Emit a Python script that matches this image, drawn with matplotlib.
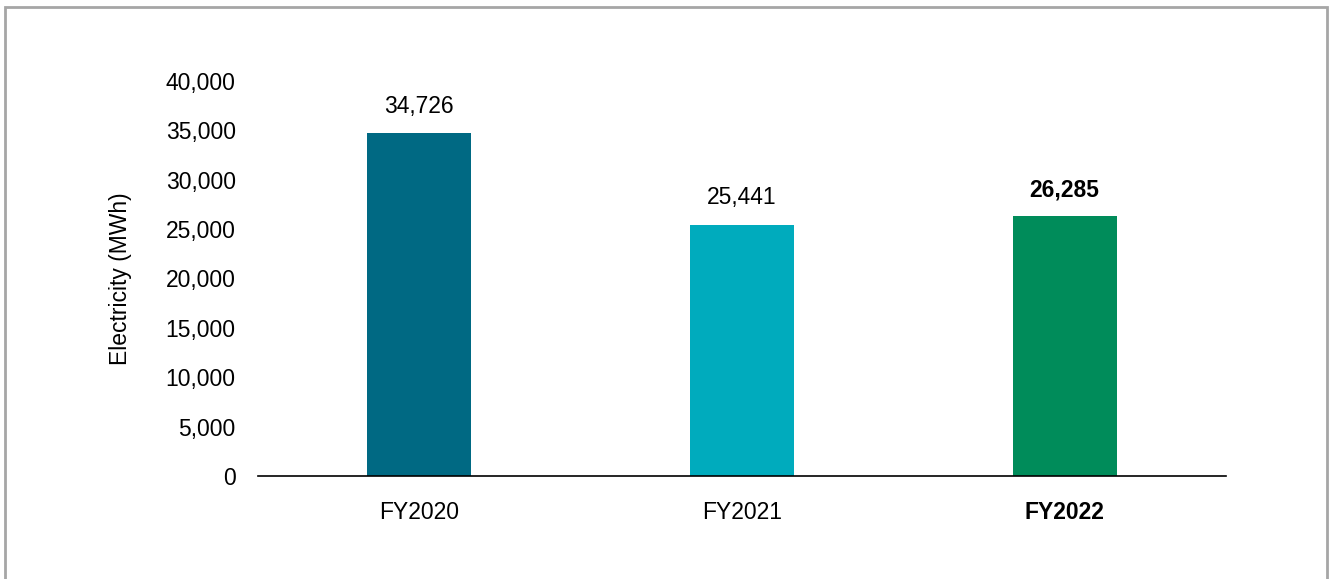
import matplotlib.pyplot as plt
from matplotlib.patches import Rectangle
from matplotlib.ticker import FuncFormatter

years = ["FY2020", "FY2021", "FY2022"]
electricity = [34726, 25441, 26285]
colors = ["#006983", "#00abbd", "#008c5a"]
yticks = [0, 5000, 10000, 15000, 20000, 25000, 30000, 35000, 40000]

plt.rcParams['font.family'] = ['Liberation Sans', 'DejaVu Sans']
FS = 16.5

fig = plt.figure(figsize=(13.29, 5.79), dpi=100)
ax = fig.add_axes([0.1941, 0.1779, 0.7284, 0.6822])

# grey frame round the whole chart
fig.patches.append(Rectangle((5 / 1329, -0.05), 1322 / 1329, 1 - 7 / 579 + 0.05,
                             transform=fig.transFigure, fill=False,
                             edgecolor="#a6a6a6", linewidth=2))

x = range(len(years))
bars = ax.bar(x, electricity, width=0.322, color=colors)

for i, (b, v) in enumerate(zip(bars, electricity)):
    weight = "bold" if i == len(years) - 1 else "normal"
    ax.annotate(f"{v:,}", (b.get_x() + b.get_width() / 2, v),
                xytext=(0, 11), textcoords="offset points",
                ha="center", va="bottom", fontsize=FS, fontweight=weight)

ax.set_xlim(-0.5, 2.5)
ax.set_ylim(0, 40000)
ax.set_yticks(yticks)
ax.yaxis.set_major_formatter(FuncFormatter(lambda v, p: f"{int(v):,}"))
ax.set_xticks(list(x))
ax.set_xticklabels(years)
ax.get_xticklabels()[-1].set_fontweight("bold")
ax.tick_params(axis="both", length=0, labelsize=FS)
ax.tick_params(axis="x", pad=18)
ax.tick_params(axis="y", pad=16)

for s in ["top", "right", "left"]:
    ax.spines[s].set_visible(False)
ax.spines["bottom"].set_linewidth(1.2)

ax.set_ylabel("Electricity (MWh)", fontsize=FS, labelpad=24)

fig.savefig("out.png", dpi=100)
